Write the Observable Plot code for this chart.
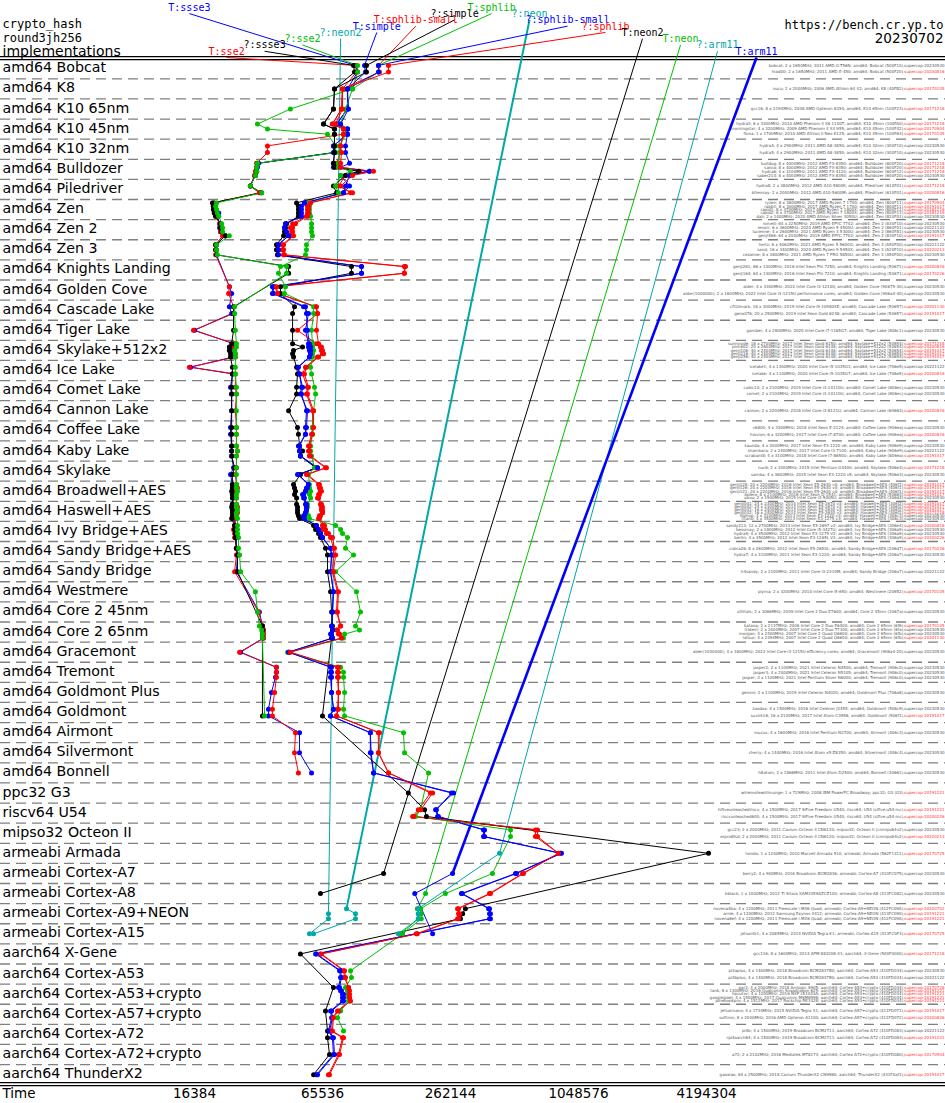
<!DOCTYPE html>
<html><head><meta charset="utf-8">
<script src="https://cdn.jsdelivr.net/npm/d3@7"></script>
<script src="https://cdn.jsdelivr.net/npm/@observablehq/plot@0.6"></script>
<style>body{margin:0;background:#fff}#chart svg{display:block}</style>
</head><body><div id="chart"></div>
<script>
// CPU families (one band each)
const rows = ["amd64 Bobcat","amd64 K8","amd64 K10 65nm","amd64 K10 45nm","amd64 K10 32nm","amd64 Bulldozer","amd64 Piledriver","amd64 Zen","amd64 Zen 2","amd64 Zen 3","amd64 Knights Landing","amd64 Golden Cove","amd64 Cascade Lake","amd64 Tiger Lake","amd64 Skylake+512x2","amd64 Ice Lake","amd64 Comet Lake","amd64 Cannon Lake","amd64 Coffee Lake","amd64 Kaby Lake","amd64 Skylake","amd64 Broadwell+AES","amd64 Haswell+AES","amd64 Ivy Bridge+AES","amd64 Sandy Bridge+AES","amd64 Sandy Bridge","amd64 Westmere","amd64 Core 2 45nm","amd64 Core 2 65nm","amd64 Gracemont","amd64 Tremont","amd64 Goldmont Plus","amd64 Goldmont","amd64 Airmont","amd64 Silvermont","amd64 Bonnell","ppc32 G3","riscv64 U54","mipso32 Octeon II","armeabi Armada","armeabi Cortex-A7","armeabi Cortex-A8","armeabi Cortex-A9+NEON","armeabi Cortex-A15","aarch64 X-Gene","aarch64 Cortex-A53","aarch64 Cortex-A53+crypto","aarch64 Cortex-A57+crypto","aarch64 Cortex-A72","aarch64 Cortex-A72+crypto","aarch64 ThunderX2"];

// family index of each benchmarked machine
const machineRow = [0,0,1,2,3,3,3,4,4,5,5,5,5,6,6,7,7,7,7,7,8,8,8,8,9,9,9,10,10,11,11,12,12,13,14,14,14,14,14,15,15,16,16,17,18,18,19,19,19,20,20,21,21,21,21,21,22,22,22,22,22,22,23,23,23,23,24,24,25,26,27,28,28,28,28,29,30,30,30,31,32,32,33,34,35,36,37,37,38,38,39,40,41,42,42,42,43,44,45,45,46,46,46,46,46,47,47,48,48,49,50];

const machineText = [
"bobcat; 2 x 1650MHz; 2011 AMD G-T56N; amd64; Bobcat (500F10); supercop-20230530",
"hiad00; 2 x 1650MHz; 2011 AMD E-450; amd64; Bobcat (500F20); supercop-20200816",
"nucu; 2 x 2000MHz; 2006 AMD Athlon 64 X2; amd64; K8 (40FB2); supercop-20170105",
"gcc16; 8 x 2194MHz; 2008 AMD Opteron 8354; amd64; K10 65nm (100F23); supercop-20171218",
"hydra3; 6 x 3300MHz; 2010 AMD Phenom II X6 1100T; amd64; K10 45nm (100FA0); supercop-20171218",
"morningstar; 4 x 3200MHz; 2009 AMD Phenom II X4 955; amd64; K10 45nm (100F42); supercop-20170904",
"fiona; 1 x 1700MHz; 2010 AMD Athlon II Neo K125; amd64; K10 45nm (100F63); supercop-20170105",
"hydra4; 4 x 2900MHz; 2011 AMD A8-3850; amd64; K10 32nm (300F10); supercop-20230530",
"hydra5; 4 x 2900MHz; 2011 AMD A8-3850; amd64; K10 32nm (300F10); supercop-20230530",
"bulldog; 8 x 4000MHz; 2012 AMD FX-8350; amd64; Bulldozer (600F20); supercop-20171218",
"salvia; 8 x 4000MHz; 2012 AMD FX-8350; amd64; Bulldozer (600F20); supercop-20171218",
"hydra6; 4 x 3100MHz; 2011 AMD FX-4120; amd64; Bulldozer (600F12); supercop-20171218",
"saber214; 8 x 4000MHz; 2012 AMD FX-8350; amd64; Bulldozer (600F20); supercop-20230530",
"hydra8; 2 x 3800MHz; 2012 AMD A10-5800K; amd64; Piledriver (610F01); supercop-20171218",
"bfremixy; 2 x 2000MHz; 2012 AMD A10-5600M; amd64; Piledriver (610F01); supercop-20200816",
"ryzen; 8 x 3600MHz; 2017 AMD Ryzen 7 1700; amd64; Zen (800F11); supercop-20170904",
"rabbit; 8 x 3000MHz; 2017 AMD Ryzen 7 1700; amd64; Zen (800F11); supercop-20191017",
"rapid1; 8 x 3700MHz; 2017 AMD Ryzen 7 1800X; amd64; Zen (800F11); supercop-20181216",
"rapid2; 8 x 3700MHz; 2017 AMD Ryzen 7 1800X; amd64; Zen (800F11); supercop-20181216",
"dali; 2 x 1400MHz; 2020 AMD Athlon Silver 3050U; amd64; Zen (820F01); supercop-20230530",
"rome0; 64 x 2250MHz; 2019 AMD EPYC 7742; amd64; Zen 2 (830F10); supercop-20230530",
"renoir; 6 x 3600MHz; 2020 AMD Ryzen 5 4500U; amd64; Zen 2 (860F01); supercop-20221122",
"lucienne; 4 x 2600MHz; 2021 AMD Ryzen 3 5300U; amd64; Zen 2 (860F81); supercop-20230530",
"genji366; 64 x 2000MHz; 2019 AMD EPYC 7702; amd64; Zen 2 (830F10); supercop-20191017",
"hertz; 6 x 4062MHz; 2021 AMD Ryzen 5 5600G; amd64; Zen 3 (A50F00); supercop-20221122",
"sand; 16 x 3400MHz; 2020 AMD Ryzen 9 5950X; amd64; Zen 3 (A20F10); supercop-20220213",
"cezanne; 8 x 3800MHz; 2021 AMD Ryzen 7 PRO 5850U; amd64; Zen 3 (A50F00); supercop-20230530",
"genji281; 68 x 1400MHz; 2016 Intel Xeon Phi 7250; amd64; Knights Landing (50671); supercop-20200816",
"genji164; 64 x 1300MHz; 2016 Intel Xeon Phi 7210; amd64; Knights Landing (50671); supercop-20170226",
"alder; 4 x 3300MHz; 2022 Intel Core i3-12100; amd64; Golden Cove (90675-30); supercop-20230530",
"alder(1000000); 2 x 1600MHz; 2022 Intel Core i3-1215U performance cores; amd64; Golden Cove (906a4-40); supercop-20230530",
"cfl10mark; 18 x 3000MHz; 2019 Intel Core i9-10980XE; amd64; Cascade Lake (50657); supercop-20201130",
"genx076; 20 x 2500MHz; 2019 Intel Xeon Gold 6248; amd64; Cascade Lake (50657); supercop-20191017",
"gamber; 4 x 2800MHz; 2020 Intel Core i7-1165G7; amd64; Tiger Lake (806c1); supercop-20230530",
"sunnyside; 18 x 2700MHz; 2017 Intel Xeon Gold 6150; amd64; Skylake+512x2 (50654); supercop-20171218",
"pmc602; 20 x 2600MHz; 2017 Intel Xeon Gold 6148; amd64; Skylake+512x2 (50654); supercop-20200816",
"genji106; 40 x 2400MHz; 2017 Intel Xeon Gold 6148; amd64; Skylake+512x2 (50654); supercop-20191017",
"genji216; 40 x 2400MHz; 2017 Intel Xeon Gold 6148; amd64; Skylake+512x2 (50654); supercop-20191017",
"genji256; 40 x 2400MHz; 2017 Intel Xeon Gold 6148; amd64; Skylake+512x2 (50654); supercop-20191017",
"icelake1; 4 x 1300MHz; 2020 Intel Core i5-1035G1; amd64; Ice Lake (706e5); supercop-20221122",
"icelake; 4 x 1100MHz; 2020 Intel Core i5-1035G7; amd64; Ice Lake (706e5); supercop-20200816",
"cubic10; 2 x 2100MHz; 2019 Intel Core i3-10110U; amd64; Comet Lake (806ec); supercop-20230530",
"comet; 2 x 2100MHz; 2019 Intel Core i3-10110U; amd64; Comet Lake (806ec); supercop-20230530",
"cannon; 2 x 2200MHz; 2018 Intel Core i3-8121U; amd64; Cannon Lake (60663); supercop-20200816",
"c6800; 4 x 3300MHz; 2018 Intel Xeon E-2124; amd64; Coffee Lake (906ea); supercop-20230530",
"hiovion; 6 x 3200MHz; 2017 Intel Core i7-8700; amd64; Coffee Lake (906ea); supercop-20200816",
"kaunda; 4 x 3000MHz; 2017 Intel Xeon E3-1220 v6; amd64; Kaby Lake (906e9); supercop-20230530",
"shambara; 2 x 2400MHz; 2017 Intel Core i3-7100; amd64; Kaby Lake (906e9); supercop-20221122",
"scrabant8; 4 x 3100MHz; 2018 Intel Core i7-8650U; amd64; Kaby Lake (806ea); supercop-20191017",
"nuc6; 2 x 3300MHz; 2015 Intel Pentium G4400; amd64; Skylake (506e3); supercop-20171218",
"samba; 4 x 3600MHz; 2015 Intel Xeon E3-1220 v5; amd64; Skylake (506e3); supercop-20230530",
"genji128; 20 x 2200MHz; 2016 Intel Xeon E5-2630 v4; amd64; Broadwell+AES (406f1); supercop-20191017",
"genji126; 20 x 2200MHz; 2016 Intel Xeon E5-2630 v4; amd64; Broadwell+AES (406f1); supercop-20191017",
"genji121; 20 x 2200MHz; 2016 Intel Xeon E5-2630 v4; amd64; Broadwell+AES (406f1); supercop-20191017",
"bolero; 8 x 2100MHz; 2016 Intel Xeon D-1541; amd64; Broadwell+AES (50663); supercop-20191017",
"ubuu; 2 x 1900MHz; 2015 Intel Core i3-5005U; amd64; Broadwell+AES (306d4); supercop-20230530",
"genji041; 24 x 2300MHz; 2014 Intel Xeon E5-2670 v3; amd64; Haswell+AES (306f2); supercop-20191017",
"genji042; 24 x 2300MHz; 2014 Intel Xeon E5-2670 v3; amd64; Haswell+AES (306f2); supercop-20191017",
"genji031; 16 x 2400MHz; 2014 Intel Xeon E5-2630 v3; amd64; Haswell+AES (306f2); supercop-20191017",
"genji032; 16 x 2400MHz; 2014 Intel Xeon E5-2630 v3; amd64; Haswell+AES (306f2); supercop-20171218",
"hiphop; 4 x 3100MHz; 2013 Intel Xeon E3-1220 v3; amd64; Haswell+AES (306c3); supercop-20230530",
"titan0; 4 x 3500MHz; 2013 Intel Xeon E3-1275 v3; amd64; Haswell+AES (306c3); supercop-20230530",
"sandy213; 12 x 2700MHz; 2013 Intel Xeon E5-2697 v2; amd64; Ivy Bridge+AES (306e4); supercop-20200816",
"bessmay; 2 x 1800MHz; 2012 Intel Core i5-3427U; amd64; Ivy Bridge+AES (306a9); supercop-20230530",
"hydra9; 4 x 3500MHz; 2012 Intel Xeon E3-1275 V2; amd64; Ivy Bridge+AES (306a9); supercop-20230530",
"berlin; 4 x 3500MHz; 2012 Intel Xeon E3-1265L V2; amd64; Ivy Bridge+AES (306a9); supercop-20200226",
"cobra26; 8 x 2600MHz; 2012 Intel Xeon E5-2650L; amd64; Sandy Bridge+AES (206d7); supercop-20170226",
"hydra7; 4 x 3100MHz; 2011 Intel Xeon E3-1220; amd64; Sandy Bridge+AES (206a7); supercop-20230530",
"h4sandy; 2 x 2100MHz; 2011 Intel Core i3-2310M; amd64; Sandy Bridge (206a7); supercop-20221122",
"plyma; 2 x 3200MHz; 2010 Intel Core i5-650; amd64; Westmere (20652); supercop-20170105",
"utilitals; 2 x 3066MHz; 2009 Intel Core 2 Duo E7600; amd64; Core 2 45nm (1067a); supercop-20230530",
"katana; 2 x 2137MHz; 2006 Intel Core 2 Duo E6400; amd64; Core 2 65nm (6f6); supercop-20170105",
"trident; 2 x 2000MHz; 2007 Intel Core 2 Duo T7300; amd64; Core 2 65nm (6fa); supercop-20230530",
"morgan; 4 x 2400MHz; 2007 Intel Core 2 Quad Q6600; amd64; Core 2 65nm (6fb); supercop-20230530",
"latour; 4 x 2394MHz; 2007 Intel Core 2 Quad Q6600; amd64; Core 2 65nm (6fb); supercop-20201130",
"alder(1030000); 4 x 1600MHz; 2022 Intel Core i3-1215U efficiency cores; amd64; Gracemont (906a4-20); supercop-20230530",
"jasper2; 2 x 1100MHz; 2021 Intel Celeron N4500; amd64; Tremont (906c0); supercop-20230530",
"jasper3; 4 x 2000MHz; 2021 Intel Celeron N5105; amd64; Tremont (906c0); supercop-20230530",
"jasper; 4 x 1100MHz; 2021 Intel Pentium Silver N6000; amd64; Tremont (906c0); supercop-20230530",
"gemini; 2 x 1100MHz; 2019 Intel Celeron N4020; amd64; Goldmont Plus (706a8); supercop-20230530",
"zoodox; 4 x 1500MHz; 2016 Intel Celeron J3455; amd64; Goldmont (506c9); supercop-20230530",
"suvirk16; 16 x 2100MHz; 2017 Intel Atom C3958; amd64; Goldmont (506f1); supercop-20191017",
"mucus; 4 x 1600MHz; 2016 Intel Pentium N3700; amd64; Airmont (406c3); supercop-20230530",
"cherry; 4 x 1440MHz; 2016 Intel Atom x5-Z8350; amd64; Silvermont (406c4); supercop-20230530",
"h8atom; 2 x 1866MHz; 2011 Intel Atom D2500; amd64; Bonnell (30661); supercop-20230530",
"wiiremotewiilimunge; 1 x 729MHz; 2008 IBM PowerPC Broadway; ppc32; G3 (G3); supercop-20191221",
"hifiveunleashedriscv; 4 x 1500MHz; 2017 SiFive Freedom U540; riscv64; U54 (sifive,u54-mc); supercop-20191221",
"riscvunleashed600; 4 x 1500MHz; 2017 SiFive Freedom U540; riscv64; U54 (sifive,u54-mc); supercop-20200226",
"gcc23; 2 x 2000MHz; 2011 Cavium Octeon II CN6120; mipso32; Octeon II (cnmips64v2); supercop-20230530",
"erpro8fsd; 2 x 2000MHz; 2011 Cavium Octeon II CN6120; mipso32; Octeon II (cnmips64v2); supercop-20220213",
"tonido; 1 x 1200MHz; 2010 Marvell Armada 510; armeabi; Armada (562F1311); supercop-20170725",
"berry2; 4 x 900MHz; 2016 Broadcom BCM2836; armeabi; Cortex-A7 (410FC075); supercop-20230530",
"bblack; 1 x 1000MHz; 2012 TI Sitara XAM3359AZCZ100; armeabi; Cortex-A8 (413FC082); supercop-20230530",
"novena4ba; 4 x 1200MHz; 2011 Freescale i.MX6 Quad; armeabi; Cortex-A9+NEON (412FC09A); supercop-20200702",
"arnie; 4 x 1200MHz; 2012 Samsung Exynos 4412; armeabi; Cortex-A9+NEON (413FC090); supercop-20191221",
"novena6ef; 4 x 1200MHz; 2011 Freescale i.MX6 Quad; armeabi; Cortex-A9+NEON (412FC09A); supercop-20191221",
"jetsontk1; 4 x 2065MHz; 2014 NVIDIA Tegra K1; armeabi; Cortex-A15 (413FC0F3); supercop-20170725",
"gcc116; 8 x 1600MHz; 2014 APM 883208-X1; aarch64; X-Gene (500F0000); supercop-20171218",
"pi3aplus; 4 x 1400MHz; 2018 Broadcom BCM2837B0; aarch64; Cortex-A53 (410FD034); supercop-20230530",
"pi3bplus; 4 x 1400MHz; 2018 Broadcom BCM2837B0; aarch64; Cortex-A53 (410FD034); supercop-20221122",
"par2; 4 x 2000MHz; 2018 Amlogic S905; aarch64; Cortex-A53+crypto (410FD034); supercop-20170726",
"tank; 8 x 1300MHz; 2016 Qualcomm Snapdragon 625; aarch64; Cortex-A53+crypto (410FD034); supercop-20191221",
"hpcutoc; 4 x 1200MHz; 2016 NXP LS1043A; aarch64; Cortex-A53+crypto (410FD034); supercop-20191221",
"googlepixel; 4 x 1500MHz; 2017 Qualcomm MSM8998; aarch64; Cortex-A53+crypto (410FD034); supercop-20191221",
"pinebookpro; 4 x 1512MHz; 2017 Rockchip RK3328; aarch64; Cortex-A53+crypto (410FD034); supercop-20191221",
"jetsonnano; 4 x 1734MHz; 2015 NVIDIA Tegra X1; aarch64; Cortex-A57+crypto (411FD071); supercop-20191017",
"softiron; 8 x 2000MHz; 2016 AMD Opteron A1100; aarch64; Cortex-A57+crypto (411FD072); supercop-20200826",
"pi4b; 4 x 1500MHz; 2019 Broadcom BCM2711; aarch64; Cortex-A72 (410FD083); supercop-20221122",
"rpi4aarch64; 4 x 1500MHz; 2019 Broadcom BCM2711; aarch64; Cortex-A72 (410FD083); supercop-20191221",
"a72; 2 x 2102MHz; 2016 Mediatek MT8173; aarch64; Cortex-A72+crypto (410FD080); supercop-20170904",
"gaoxiao; 64 x 2500MHz; 2018 Cavium ThunderX2 CN9980; aarch64; ThunderX2 (431F0af1); supercop-20191017"
];

// implementations (label order) and colours
const implNames = ["T:ssse3","T:sse2","?:ssse3","?:sse2","?:neon2","T:simple","T:sphlib-small","?:simple","T:sphlib","?:neon","?:sphlib-small","?:sphlib","T:neon2","T:neon","?:arm11","T:arm11"];
const implColors = ["#0000ff","#ff0000","#000000","#00c000","#00a8a8","#0000ff","#ff0000","#000000","#00c000","#00a8a8","#0000ff","#ff0000","#000000","#00c000","#00a8a8","#0000ff"];
const labelKcycles = [15.5, 23.2, 35.0, 52.8, 79.7, 118, 180, 274, 409, 617, 931, 1405, 2097, 3165, 4725, 7209];
const labelLevel = [7, 0, 1, 2, 3, 4, 5, 6, 7, 6, 5, 4, 3, 2, 1, 0];

// time in thousands of cycles, one entry per machine (null = not measured)
const ssse3T = [93.7,95.8,85.9,85.9,76.3,85.9,85.9,73.8,73.8,32.8,32.4,32.1,31.4,30.0,33.5,
 20.3,20.3,20.6,21.3,21.0,21.5,21.5,21.7,22.7,20.8,20.8,20.8,null,null,23.9,24.5,
 23.9,24.5,16.4,25.0,24.7,24.7,24.7,24.7,15.7,24.7,24.2,24.5,24.5,24.2,24.2,24.5,24.5,24.5,25.0,24.2,
 24.7,24.7,25.0,24.7,25.0,24.7,25.0,24.7,25.0,25.0,25.3,25.3,25.3,25.5,25.8,25.8,26.1,25.8,null,33.1,
 34.2,34.6,34.6,34.6,27.0,39.8,39.8,39.4,37.7,36.5,36.5,51.1,51.1,58.2];
const sse2T = [93.7,94.7,81.4,80.5,73.0,82.3,82.3,36.1,36.1,32.1,32.1,31.7,31.4,30.0,33.1,
 20.1,20.1,20.3,20.3,20.6,21.5,21.7,21.7,22.2,20.6,20.6,20.6,null,null,23.9,23.7,
 25.0,25.0,16.2,25.3,25.3,25.3,25.5,25.5,15.5,25.5,25.5,25.8,25.5,25.8,25.8,25.8,26.1,25.8,25.8,25.5,
 25.8,26.1,25.8,25.5,25.8,25.8,26.1,25.8,26.1,25.8,25.8,25.3,25.0,25.3,25.3,25.8,25.8,25.3,null,32.8,
 34.2,34.6,34.6,34.6,26.7,39.8,39.8,39.8,39.0,38.1,38.1,48.9,48.4,50.5];
const ssse3Q = [91.7,92.7,74.6,73.8,66.3,74.6,74.6,74.6,74.6,32.4,32.1,32.1,31.7,30.0,33.9,
 19.9,20.1,20.1,20.3,20.6,21.7,21.7,22.0,22.9,20.6,20.6,20.8,45.4,45.4,null,null,
 25.0,25.0,25.0,24.5,23.9,23.9,24.2,24.2,24.7,24.7,24.5,24.5,24.5,24.5,24.5,24.5,24.5,24.5,25.3,24.7,
 24.7,24.7,24.5,24.7,24.7,24.7,24.5,24.7,24.7,24.7,24.5,25.3,25.3,25.5,25.5,25.8,26.1,26.1,null,null,
 34.2,34.2,34.2,34.2,null,null,null,null,null,null,34.2];
const sse2Q = [95.8,95.8,90.7,46.3,32.4,36.1,69.2,75.5,75.5,32.4,32.1,32.1,31.7,30.0,33.9,
 20.8,20.6,20.8,21.0,21.3,22.0,22.2,22.2,23.9,20.8,20.8,21.0,44.4,44.4,null,null,
 25.3,25.3,25.5,25.8,25.8,25.3,25.5,25.5,25.5,25.5,25.8,25.8,25.8,25.8,25.8,25.8,26.1,25.8,25.8,25.8,
 25.8,25.8,26.1,25.8,25.8,25.8,25.8,26.1,25.8,25.8,26.1,26.1,26.1,26.1,26.4,26.4,26.7,27.0,31.7,32.4,
 33.1,33.9,34.2,34.2,null,null,null,null,null,null,35.0];
const simpleT = [103.3,104.4,85.9,85.9,76.3,85.9,85.9,73.8,74.6,73.8,73.8,109.0,79.7,87.8,82.3,
 53.9,51.6,51.6,51.6,51.6,43.9,43.4,43.9,45.4,40.3,40.7,40.3,100.0,100.0,38.1,38.1,
 53.4,56.3,54.5,56.3,56.3,56.9,57.6,56.9,50.0,51.1,52.2,51.6,55.7,55.1,54.5,50.5,51.1,51.6,62.1,50.0,
 56.3,55.1,54.5,52.8,53.4,54.5,55.1,55.1,54.5,53.4,52.8,61.4,62.8,64.1,65.5,71.5,72.3,71.5,73.8,73.0,
 72.3,73.0,71.5,73.0,45.4,71.5,71.5,71.5,72.3,73.8,71.5,110,110,114,
 271,223,228,375,375,863,530,295,396,400,400,null,60.8,78.8,79.7,77.9,79.7,81.4,81.4,81.4,71.5,72.3,69.9,73.0,73.8,61.4];
const sphlibSmallQ = [120.2,120.2,85.9,86.9,79.7,85.9,85.9,84.1,84.1,87.8,79.7,109.0,87.8,84.1,82.3,
 53.9,52.2,52.2,52.2,52.2,43.9,43.4,44.4,45.4,40.7,40.7,40.7,100.0,100.0,38.6,38.6,
 54.5,55.1,55.7,56.9,57.6,57.6,57.6,56.9,50.5,51.1,52.8,52.2,55.1,54.5,54.5,51.1,51.1,51.6,62.1,50.5,
 56.3,55.7,54.5,53.4,53.9,55.1,55.1,55.1,54.5,53.9,53.9,61.4,62.8,64.1,65.5,71.5,72.3,71.5,73.8,73.0,
 72.3,73.0,72.3,73.0,45.4,72.3,72.3,72.3,72.3,73.8,71.5,110,111,114,
 265,225,230,379,379,872,536,298,400,404,404,null,61.4,79.7,80.5,78.8,80.5,82.3,82.3,82.3,72.3,73.0,70.7,73.8,74.6,62.1];
const sphlibSmallT = [120.2,121.5,81.4,80.5,73.0,82.3,82.3,79.7,79.7,76.3,76.3,97.8,84.1,77.9,90.7,
 56.9,55.7,55.7,55.7,55.1,47.4,46.3,46.9,47.4,42.5,42.5,43.0,159,159,39.0,40.3,
 60.8,62.1,50.0,61.4,64.1,64.8,65.5,62.1,54.5,52.8,55.7,55.1,58.8,58.8,58.2,56.3,56.3,56.9,67.7,55.1,
 62.8,63.4,64.1,62.8,62.1,64.1,64.8,64.8,65.5,63.4,62.8,65.5,65.5,68.4,71.5,73.8,73.8,73.0,77.1,76.3,
 79.7,76.3,77.9,80.5,45.8,77.1,77.1,77.1,77.9,77.1,76.3,120,120,134,
 211,185,174,658,658,844,572,400,283,286,283,181,64.1,82.3,83.2,86.9,86.9,86.9,87.8,87.8,77.1,73.0,72.3,81.4,77.9,69.9];
const sphlibQ = [133.9,133.9,81.4,81.4,75.5,82.3,82.3,79.7,80.5,79.7,79.7,113.8,90.7,79.7,88.8,
 57.6,56.3,56.3,56.3,55.7,48.9,47.4,47.4,47.9,43.0,43.0,43.4,161,159,39.8,40.3,
 61.4,62.1,61.4,62.8,64.8,65.5,66.3,62.8,55.1,53.9,56.3,55.7,59.5,59.5,58.8,56.9,56.9,57.6,68.4,55.7,
 63.4,64.1,64.8,63.4,62.8,64.8,65.5,65.5,65.5,64.1,63.4,67.0,67.7,69.9,73.0,74.6,75.5,73.8,77.9,77.1,
 79.7,77.1,78.8,80.5,46.3,77.9,77.9,77.9,77.9,77.9,76.3,121.5,120.2,133.9,
 216,190,176,673,673,844,578,404,286,289,286,183,64.8,83.2,84.1,86.9,87.8,87.8,87.8,88.8,77.9,73.8,73.0,82.3,78.8,70.7];
const simpleQ = [105.5,105.5,74.6,73.8,66.3,74.6,74.6,74.6,74.6,73.8,74.6,96.8,84.1,73.8,76.3,
 49.5,50.5,50.5,50.5,50.5,44.4,43.9,43.4,43.0,39.8,39.8,40.3,89.7,89.7,41.6,41.6,
 48.4,47.4,47.4,47.4,52.8,47.9,47.4,47.9,49.5,50.0,49.5,49.5,45.4,50.0,50.5,51.1,52.8,51.6,60.8,51.6,
 47.9,48.4,48.9,48.4,49.5,49.5,50.0,50.0,50.0,50.5,51.1,59.5,60.8,62.8,64.1,67.7,69.2,69.2,71.5,72.3,
 73.0,73.0,72.3,72.3,null,null,null,null,null,null,65.5,null,null,null,
 166,198,202,null,null,4286,null,null,308,299,292,null,51.6,null,null,73.8,null,null,null,null,67.7,null,69.2,69.2,70.7,59.5];
const sphlibT = [120.2,120.2,90.7,84.1,79.7,84.1,84.1,78.8,78.8,77.9,77.9,88.8,79.7,75.5,77.9,
 56.9,56.9,56.9,56.9,57.6,58.2,58.2,58.2,58.8,55.1,55.1,54.5,41.6,40.7,43.9,43.4,
 59.5,59.5,58.2,58.8,58.8,59.5,58.8,58.8,57.6,58.2,60.1,60.8,59.5,58.8,58.8,57.6,57.6,58.2,60.1,56.3,
 56.9,56.9,57.6,56.9,57.6,55.7,55.7,55.1,55.1,56.3,56.9,75.5,79.7,81.4,85.9,84.1,91.7,75.5,94.7,98.9,
 93.7,97.8,83.2,82.3,44.9,79.7,82.3,82.3,83.2,82.3,83.2,157.6,159.3,206.7,
 null,189.5,179.5,502,502,null,413,248,190,191,191,156,null,88.8,89.7,84.1,85.9,86.9,86.9,86.9,79.7,77.1,82.3];
// ARM-only implementations: [machine index, thousands of cycles]
const neon2Q = [[94,69.9],[95,69.9],[96,56.9]];
const neonQ = [[93,85.0],[94,93.7],[95,93.7],[96,59.5]];
const neon2T = [[91,127],[92,64.1]];
const neonT = [[92,200],[93,183],[94,185],[95,185],[96,153]];
const arm11Q = [[90,446],[93,185],[94,185],[95,185],[96,149]];
const arm11T = [[91,268],[92,178],[96,216]];

const axisTicks = [16384, 65536, 262144, 1048576, 4194304];

// ---- build tables ----
const dense = [ssse3T, sse2T, ssse3Q, sse2Q, null, simpleT, sphlibSmallT, simpleQ, sphlibT, null, sphlibSmallQ, sphlibQ, null, null, null, null];
const sparse = {4: neon2Q, 9: neonQ, 12: neon2T, 13: neonT, 14: arm11Q, 15: arm11T};
const rowCount = rows.map((_, r) => machineRow.filter(m => m === r).length);
const seen = rows.map(() => 0);
const machineY = machineRow.map(r => r + (++seen[r]) / (rowCount[r] + 1));

const points = [], connectors = [], labels = [];
implNames.forEach((name, s) => {
  let pairs = dense[s] ? dense[s].map((v, i) => [i, v]) : sparse[s];
  pairs = pairs.filter(p => p[1] != null);
  const pts = pairs.map(([i, v]) => ({series: name, color: implColors[s], x: v * 1000, y: machineY[i]}));
  points.push(...pts);
  const ly = -0.358 - 0.312 * labelLevel[s];
  labels.push({text: name, color: implColors[s], x: labelKcycles[s] * 1000, y: ly});
  if (pts.length) connectors.push({color: implColors[s], x1: labelKcycles[s] * 1000, y1: ly + 0.3, x2: pts[0].x, y2: pts[0].y,
    w: name === "T:arm11" ? 2.6 : name === "?:neon" ? 2 : 1});
});

const machines = machineText.map((t, i) => {
  const k = t.lastIndexOf("; ");
  const version = t.slice(k + 2);
  return {desc: t.slice(0, k + 1), version, y: machineY[i], old: version.slice(9) < "20221122"};
});

const chart = Plot.plot({
  width: 945, height: 1103, margin: 0,
  x: {type: "log", domain: [16384, 4194304], range: [194, 706], axis: null},
  y: {domain: [0, 51], range: [58.2, 1084.2], axis: null},
  color: {type: "identity"},
  style: {background: "#fff"},
  marks: [
    Plot.ruleY(d3.range(1, 51), {stroke: "#808080", strokeWidth: 1.3, strokeDasharray: "10,6"}),
    Plot.ruleY([0], {dy: -2, stroke: "#000", strokeWidth: 1.2}),
    Plot.ruleY([0], {dy: 1, stroke: "#000", strokeWidth: 1.2}),
    Plot.ruleY([51], {dy: -2, stroke: "#000", strokeWidth: 1.2}),
    Plot.ruleY([51], {dy: 1, stroke: "#000", strokeWidth: 1.2}),
    Plot.link(connectors, {x1: "x1", y1: "y1", x2: "x2", y2: "y2", stroke: "color", strokeWidth: "w"}),
    Plot.line(points, {x: "x", y: "y", z: "series", stroke: "color", strokeWidth: 1}),
    Plot.dot(points, {x: "x", y: "y", r: 2.5, fill: "color", stroke: "none"}),
    Plot.text(labels, {x: "x", y: "y", text: "text", fill: "color", fontFamily: "DejaVu Sans Mono", fontSize: 10, textAnchor: "middle"}),
    Plot.text(rows, {frameAnchor: "left", y: (d, i) => i + 0.45, text: d => d, dx: 2, textAnchor: "start", fontFamily: "DejaVu Sans", fontSize: 14.2, fill: "#000"}),
    Plot.text(machines, {frameAnchor: "right", y: "y", text: "desc", dx: -41, textAnchor: "end", fontFamily: "DejaVu Sans", fontSize: 4, fill: "#555"}),
    Plot.text(machines, {frameAnchor: "right", y: "y", text: "version", dx: -1, textAnchor: "end", fontFamily: "DejaVu Sans", fontSize: 4, fill: d => d.old ? "#ff3030" : "#555"}),
    Plot.text(axisTicks, {x: d => d, y: 51, dy: 9, text: d => String(d), fontFamily: "DejaVu Sans", fontSize: 13.5, fill: "#000"}),
    Plot.text(["Time"], {frameAnchor: "left", y: 51, dy: 9, dx: 2, textAnchor: "start", fontFamily: "DejaVu Sans", fontSize: 13.5, fill: "#000"}),
    Plot.text(["crypto_hash"], {frameAnchor: "top-left", dx: 2, dy: 27, lineAnchor: "bottom", textAnchor: "start", fontFamily: "DejaVu Sans Mono", fontSize: 12, fill: "#000"}),
    Plot.text(["round3jh256"], {frameAnchor: "top-left", dx: 2, dy: 41, lineAnchor: "bottom", textAnchor: "start", fontFamily: "DejaVu Sans Mono", fontSize: 12, fill: "#000"}),
    Plot.text(["implementations"], {frameAnchor: "top-left", dx: 2, dy: 55, lineAnchor: "bottom", textAnchor: "start", fontFamily: "DejaVu Sans", fontSize: 14, fill: "#000"}),
    Plot.text(["https://bench.cr.yp.to"], {frameAnchor: "top-right", dx: -2, dy: 28, lineAnchor: "bottom", textAnchor: "end", fontFamily: "DejaVu Sans Mono", fontSize: 12, fill: "#000"}),
    Plot.text(["20230702"], {frameAnchor: "top-right", dx: -2, dy: 42, lineAnchor: "bottom", textAnchor: "end", fontFamily: "DejaVu Sans", fontSize: 13.5, fill: "#000"})
  ]
});
document.getElementById("chart").appendChild(chart);
</script>
</body></html>
